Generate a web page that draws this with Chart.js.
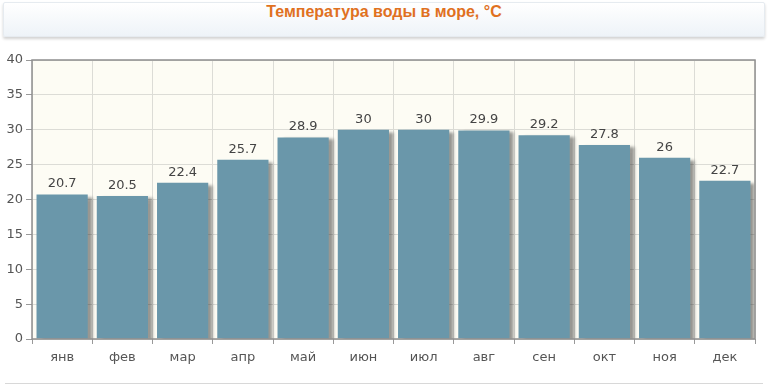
<!DOCTYPE html>
<html>
<head>
<meta charset="utf-8">
<script src="https://cdn.jsdelivr.net/npm/chart.js@4"></script>
<style>
  html, body { margin: 0; padding: 0; background: #fff; }
  body { width: 768px; height: 387px; position: relative; overflow: hidden; }
  #banner {
    position: absolute; left: 3px; top: 2px; width: 760px; height: 33px;
    background: linear-gradient(#ffffff, #eef3f8);
    border: 1px solid #e6ebf0; border-radius: 2px;
    box-shadow: 0 2px 3px rgba(0,0,0,0.18);
    text-align: center; line-height: 33px;
    font: bold 16px "Liberation Sans", Arial, sans-serif; color: #e0711f;
  }
  #wrap { position: absolute; left: 0; top: 44px; width: 768px; height: 343px; }
  #footer { position: absolute; left: 5px; top: 383px; width: 758px; height: 1px; background: #d8d8d8; }
</style>
</head>
<body>
<div id="banner">Температура воды в море, °C</div>
<div id="wrap"><canvas id="grafico"></canvas></div>
<div id="footer"></div>
<script>
// данные
const meses = ['янв', 'фев', 'мар', 'апр', 'май', 'июн', 'июл', 'авг', 'сен', 'окт', 'ноя', 'дек'];
const temperaturas = [20.7, 20.5, 22.4, 25.7, 28.9, 30, 30, 29.9, 29.2, 27.8, 26, 22.7];
const ticksY = [0, 5, 10, 15, 20, 25, 30, 35, 40];

// fondo del área y marco
const fondoPlugin = {
    id: 'fondo',
    beforeDraw(chart) {
        const { ctx, chartArea: a } = chart;
        ctx.save();
        ctx.fillStyle = '#fdfcf4';
        ctx.fillRect(a.left, a.top, a.right - a.left, a.bottom - a.top);
        ctx.restore();
    },
    afterDraw(chart) {
        const { ctx, chartArea: a } = chart;
        ctx.save();
        ctx.strokeStyle = '#8f8f8f';
        ctx.lineWidth = 1.5;
        ctx.strokeRect(a.left, a.top, a.right - a.left, a.bottom - a.top);
        ctx.restore();
    }
};

// sombra de las barras
const sombraPlugin = {
    id: 'sombra',
    beforeDatasetsDraw(chart) {
        const ctx = chart.ctx;
        ctx.save();
        ctx.shadowColor = 'rgba(0,0,0,0.4)';
        ctx.shadowBlur = 3;
        ctx.shadowOffsetX = 5;
        ctx.shadowOffsetY = 2;
    },
    afterDatasetsDraw(chart) {
        chart.ctx.restore();
    }
};

// etiquetas de valores
const etiquetasPlugin = {
    id: 'etiquetas',
    afterDatasetsDraw(chart) {
        const ctx = chart.ctx;
        const meta = chart.getDatasetMeta(0);
        ctx.save();
        ctx.font = '13px "DejaVu Sans", Verdana, sans-serif';
        ctx.fillStyle = '#444';
        ctx.textAlign = 'center';
        ctx.textBaseline = 'bottom';
        meta.data.forEach(function (bar, i) {
            ctx.fillText(String(temperaturas[i]), bar.x, bar.y - 4);
        });
        ctx.restore();
    }
};

const ctx = document.getElementById('grafico').getContext('2d');
new Chart(ctx, {
    type: 'bar',
    data: {
        labels: meses,
        datasets: [{
            data: temperaturas,
            backgroundColor: '#6a97aa',
            borderWidth: 0,
            categoryPercentage: 1,
            barPercentage: 0.85
        }]
    },
    options: {
        responsive: true,
        maintainAspectRatio: false,
        animation: false,
        layout: { padding: { top: 16, right: 13, left: 0, bottom: 0 } },
        plugins: {
            legend: { display: false },
            tooltip: { enabled: false }
        },
        scales: {
            y: {
                min: 0,
                max: 40,
                afterBuildTicks(axis) { axis.ticks = ticksY.map(v => ({ value: v })); },
                afterFit(axis) { axis.width = 32; },
                ticks: {
                    color: '#555',
                    padding: 3,
                    font: { family: '"DejaVu Sans", Verdana, sans-serif', size: 13 }
                },
                grid: { color: '#dcdcd6', tickColor: '#999', tickLength: 6 },
                border: { display: false }
            },
            x: {
                afterFit(axis) { axis.height = 48; },
                ticks: {
                    color: '#555',
                    padding: 6,
                    font: { family: '"DejaVu Sans", Verdana, sans-serif', size: 13 }
                },
                grid: { color: '#dcdcd6', tickColor: '#999', tickLength: 5, offset: true },
                border: { display: false }
            }
        }
    },
    plugins: [fondoPlugin, sombraPlugin, etiquetasPlugin]
});
</script>
</body>
</html>
